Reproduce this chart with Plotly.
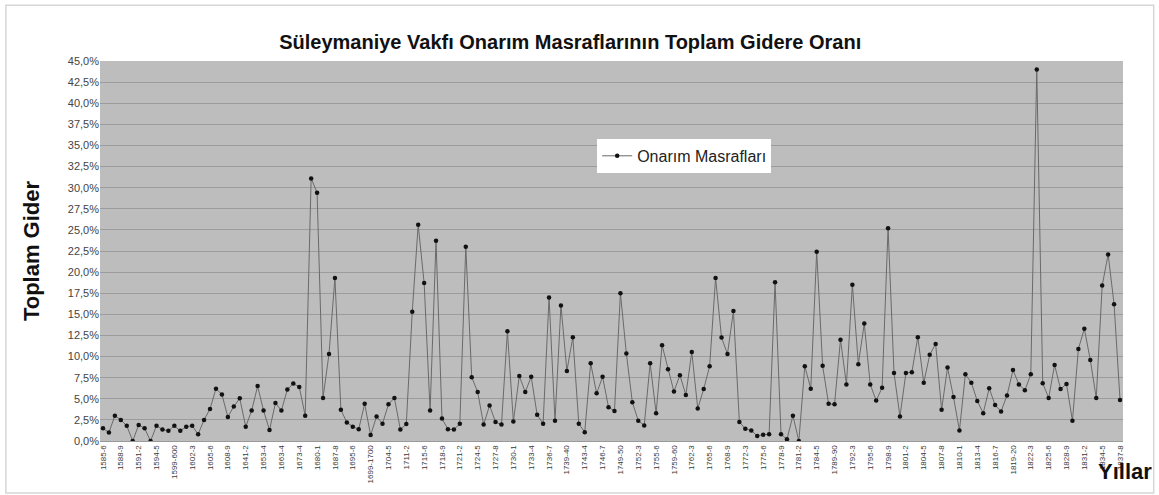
import plotly.graph_objects as go

# Tick labels shown on the category axis (every 3rd period)
tick_labels = [
    "1585-6", "1588-9", "1591-2", "1594-5", "1599-600", "1602-3", "1605-6", "1608-9",
    "1641-2", "1653-4", "1663-4", "1673-4", "1680-1", "1687-8", "1695-6", "1699-1700",
    "1704-5", "1711-2", "1715-6", "1718-9", "1721-2", "1724-5", "1727-8", "1730-1",
    "1733-4", "1736-7", "1739-40", "1743-4", "1746-7", "1749-50", "1752-3", "1755-6",
    "1759-60", "1762-3", "1765-6", "1768-9", "1772-3", "1775-6", "1778-9", "1781-2",
    "1784-5", "1789-90", "1792-3", "1795-6", "1798-9", "1801-2", "1804-5", "1807-8",
    "1810-1", "1813-4", "1816-7", "1819-20", "1822-3", "1825-6", "1828-9", "1831-2",
    "1834-5", "1837-8",
]

# Repair expenses as % of total expenditure, one value per period
onarim = [
    1.5, 1.0, 3.0, 2.5, 1.8, 0.0, 1.9, 1.5, 0.0, 1.8,
    1.35, 1.2, 1.8, 1.2, 1.7, 1.8, 0.8, 2.5, 3.8, 6.2,
    5.5, 2.85, 4.1, 5.05, 1.7, 3.6, 6.5, 3.6, 1.3, 4.5,
    3.6, 6.1, 6.8, 6.4, 3.0, 31.1, 29.4, 5.1, 10.3, 19.3,
    3.7, 2.2, 1.7, 1.4, 4.4, 0.7, 2.9, 2.05, 4.35, 5.1,
    1.35, 2.0, 15.3, 25.6, 18.7, 3.6, 23.7, 2.65, 1.4, 1.35,
    2.05, 23.0, 7.55, 5.8, 1.95, 4.2, 2.25, 1.95, 13.0, 2.3,
    7.7, 5.8, 7.6, 3.1, 2.05, 17.0, 2.4, 16.05, 8.3, 12.3,
    2.05, 1.05, 9.2, 5.65, 7.6, 4.0, 3.55, 17.5, 10.35, 4.6,
    2.4, 1.85, 9.2, 3.3, 11.35, 8.5, 5.85, 7.8, 5.45, 10.55,
    3.85, 6.15, 8.85, 19.3, 12.25, 10.3, 15.4, 2.25, 1.45, 1.25,
    0.6, 0.75, 0.8, 18.8, 0.8, 0.2, 3.0, 0.0, 8.85, 6.2,
    22.4, 8.9, 4.4, 4.35, 12.0, 6.7, 18.5, 9.1, 13.9, 6.7,
    4.8, 6.3, 25.2, 8.05, 2.9, 8.05, 8.15, 12.3, 6.9, 10.2,
    11.5, 3.7, 8.7, 5.2, 1.25, 7.9, 6.9, 4.75, 3.3, 6.25,
    4.25, 3.5, 5.4, 8.4, 6.7, 6.0, 7.9, 44.0, 6.85, 5.1,
    9.0, 6.15, 6.75, 2.4, 10.9, 13.3, 9.6, 5.1, 18.4, 22.1,
    16.2, 4.85,
]

x_idx = list(range(len(onarim)))
tick_pos = x_idx[::3][:len(tick_labels)]

fig = go.Figure()
fig.add_trace(go.Scatter(
    x=x_idx, y=onarim, mode="lines+markers", name="Onarım Masrafları",
    line=dict(color="#6a6a6a", width=1),
    marker=dict(color="#111111", size=4.5),
))

FONT = "Liberation Sans, Arial, sans-serif"

fig.update_layout(
    width=1159, height=495,
    margin=dict(l=100, r=36, t=61, b=54),
    paper_bgcolor="white",
    plot_bgcolor="#bdbdbd",
    separators=",.",
    font=dict(family=FONT, color="#333333"),
    title=dict(
        text="<b>Süleymaniye Vakfı Onarım Masraflarının Toplam Gidere Oranı</b>",
        x=0.492, xanchor="center", y=0.915, yanchor="middle",
        font=dict(size=20, color="#111111", family=FONT),
    ),
    showlegend=True,
    legend=dict(
        x=0.486, y=0.795, xanchor="left", yanchor="top",
        bgcolor="white", font=dict(size=16, color="#222222", family=FONT),
        borderwidth=0,
    ),
    xaxis=dict(
        range=[-0.5, len(onarim) - 0.5],
        tickmode="array", tickvals=tick_pos, ticktext=tick_labels,
        tickangle=-90, tickfont=dict(size=8, color="#3a3a3a"),
        showgrid=False, zeroline=False,
        showline=True, linecolor="#9a9a9a",
        ticks="", fixedrange=True,
    ),
    yaxis=dict(
        range=[0, 45], dtick=2.5, tick0=0,
        tickformat=".1f", ticksuffix="%",
        tickfont=dict(size=11, color="#444444"),
        showgrid=True, gridcolor="#9c9c9c", gridwidth=1,
        zeroline=False, showline=False, ticks="",
        title=dict(text="<b>Toplam Gider</b>", font=dict(size=22, color="#111111", family=FONT), standoff=22),
    ),
    shapes=[dict(
        type="rect", xref="paper", yref="paper",
        x0=-0.092, x1=1.03, y0=-0.137, y1=1.147,
        line=dict(color="#d6d6d6", width=1.5), fillcolor="rgba(0,0,0,0)", layer="below",
    )],
    annotations=[dict(
        text="<b>Yıllar</b>", xref="paper", yref="paper",
        x=1.03, y=-0.08, xanchor="right", yanchor="middle", showarrow=False,
        font=dict(size=22, color="#111111", family=FONT),
    )],
)

fig.write_html(
    "out.html",
    config={"displayModeBar": False},
    post_script="document.body.style.margin='0';document.body.style.overflow='hidden';",
)
